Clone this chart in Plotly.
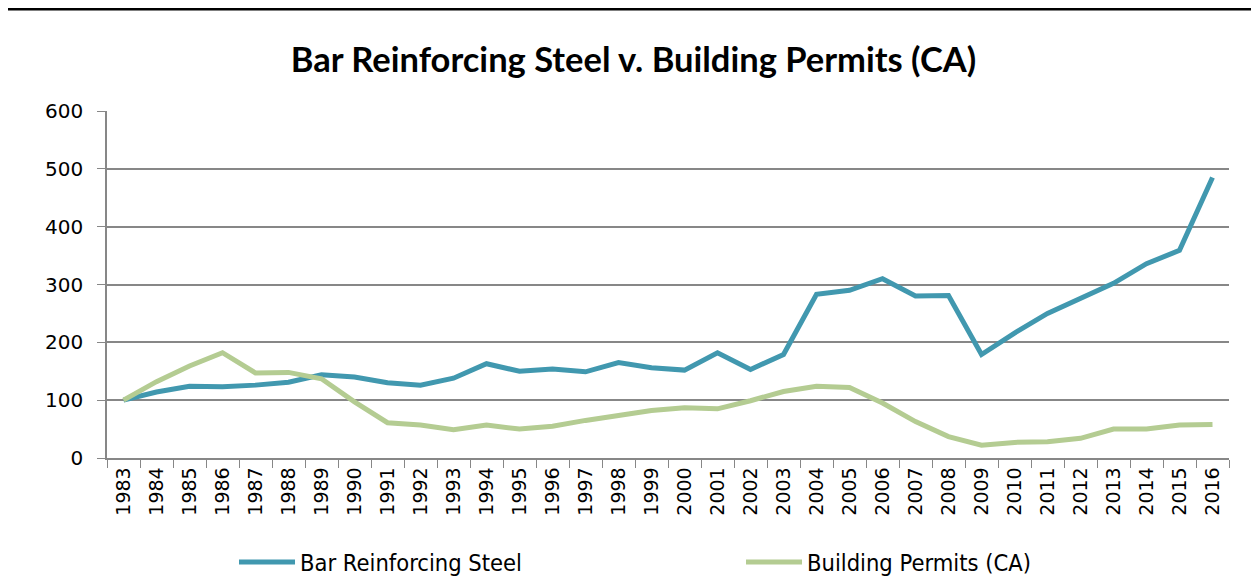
import plotly.graph_objects as go

years = [str(y) for y in range(1983, 2017)]
steel = [100, 114, 124, 123, 126, 131, 144, 140, 130, 126, 138, 163, 150, 154, 149, 165,
         156, 152, 182, 153, 179, 283, 290, 310, 280, 281, 179, 216, 250, 277, 302, 336, 359, 485]
permits = [100, 132, 159, 182, 147, 148, 137, 97, 61, 57, 49, 57, 50, 55, 65, 74,
           82, 87, 85, 99, 115, 124, 122, 95, 63, 37, 22, 27, 28, 34, 50, 50, 57, 58]
y_ticks = [0, 100, 200, 300, 400, 500, 600]

STEEL_C = "#4198AF"
PERMIT_C = "#B4CC92"
GRID_C = "#878787"
FONT = "Lato, Carlito, Calibri, sans-serif"
TICK_FONT = "DejaVu Sans, sans-serif"

fig = go.Figure()
fig.add_trace(go.Scatter(x=years, y=steel, name="Bar Reinforcing Steel", mode="lines",
                         line=dict(color=STEEL_C, width=5)))
fig.add_trace(go.Scatter(x=years, y=permits, name="Building Permits (CA)", mode="lines",
                         line=dict(color=PERMIT_C, width=5)))

fig.update_layout(
    width=1251, height=576,
    margin=dict(l=99, r=30, t=103, b=126),
    paper_bgcolor="white", plot_bgcolor="white",
    font=dict(family=FONT, color="black"),
    title=dict(text="<b>Bar Reinforcing Steel v. Building Permits (CA)</b>",
               x=0.5, xanchor="center", y=0.91, yanchor="middle",
               font=dict(size=34.5, family=FONT, color="black")),
    showlegend=True,
    legend=dict(orientation="h", xref="paper", x=0.1132, xanchor="left",
                yref="container", y=0.038, yanchor="middle",
                font=dict(size=23.5, family="DejaVu Sans Condensed, " + FONT),
                itemwidth=56, entrywidth=436, entrywidthmode="pixels", traceorder="normal"),
    xaxis=dict(type="category", range=[-0.5, len(years) - 0.5],
               showgrid=False, showline=True, linecolor=GRID_C, linewidth=1.5,
               ticks="outside", tickson="boundaries", ticklen=8, tickcolor=GRID_C,
               tickangle=-90, tickfont=dict(size=19, family=TICK_FONT), fixedrange=True),
    yaxis=dict(range=[0, 600], tickvals=y_ticks, showgrid=True, gridcolor=GRID_C, gridwidth=1.5,
               showline=True, linecolor=GRID_C, linewidth=1.5, zeroline=False,
               ticks="outside", ticklen=8, tickcolor=GRID_C, ticklabelstandoff=10,
               tickfont=dict(size=20, family=TICK_FONT)),
    shapes=[dict(type="line", xref="paper", yref="paper", x0=-0.09, x1=1.03,
                 y0=1.294, y1=1.294, line=dict(color="black", width=3))],
)

fig.write_html("out.html")
